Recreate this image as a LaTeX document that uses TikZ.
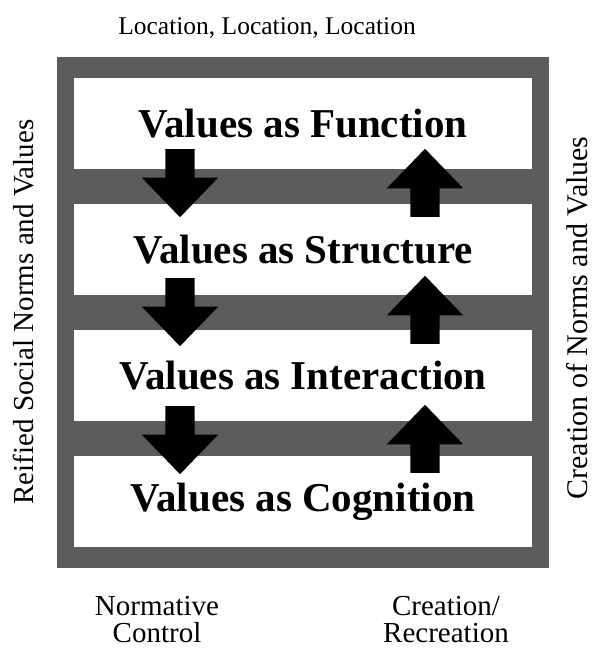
\documentclass[tikz,border=0pt]{standalone}
\usepackage{fontspec}
\setmainfont{Liberation Serif}
\usetikzlibrary{positioning}
\usetikzlibrary{shapes.arrows}
\usetikzlibrary{fit,backgrounds}
\definecolor{framegray}{gray}{0.36}
\tikzstyle{level} = [rectangle,fill=white,inner sep=0pt,outer sep=0pt,minimum width=458pt,minimum height=91pt, font=\fontsize{41}{41}\selectfont\bfseries, node distance=35pt]
\tikzstyle{push} = [single arrow,fill=black,inner xsep=14.5pt,inner ysep=0pt,minimum height=68pt,minimum width=76pt,single arrow head extend=23.5pt,single arrow tip angle=88,anchor=tail]
\tikzstyle{caption} = [font=\fontsize{26}{27}\selectfont, align=center, inner sep=0pt]

\begin{document}
\begin{tikzpicture}[x=1pt,y=1pt]
\useasboundingbox (0,0) rectangle (593,-649);

% Define nodes
\node[level] at (303,-123.5)   (fn)  {Values as Function};
\node[level, below = of fn]    (st)  {Values as Structure};
\node[level, below = of st]    (in)  {Values as Interaction};
\node[level, below = of in]    (cg)  {Values as Cognition};

\begin{scope}[on background layer]
\node[fill=framegray, inner xsep=17pt, inner ysep=21pt, fit=(fn)(cg)] (frame) {};
\end{scope}

% Arrows down (left) and up (right), placed by their tails
\node[push, shape border rotate=270] at (180,-149)  (d1) {};
\node[push, shape border rotate=270] at (180,-278)  (d2) {};
\node[push, shape border rotate=270] at (180,-406)  (d3) {};
\node[push, shape border rotate=90]  at (425,-217)  (u1) {};
\node[push, shape border rotate=90]  at (425,-344)  (u2) {};
\node[push, shape border rotate=90]  at (425,-473)  (u3) {};

% Labels
\node[caption, font=\fontsize{25.5}{27}\selectfont] at (267,-28) (loc) {Location, Location, Location};
\node[caption, font=\fontsize{29}{27}\selectfont, rotate=90] at (24,-312) (reified) {Reified Social Norms and Values};
\node[caption, font=\fontsize{30}{27}\selectfont, rotate=90] at (577,-318) (creation) {Creation of Norms and Values};
\node[caption, font=\fontsize{29}{27}\selectfont] at (157,-620) (control) {Normative\\Control};
\node[caption, font=\fontsize{29}{27}\selectfont] at (446,-620) (recreation) {Creation/\\Recreation};
\end{tikzpicture}
\end{document}
